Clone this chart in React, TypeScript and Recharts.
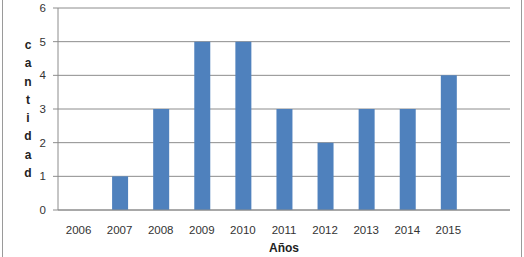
import React from 'react';
import { BarChart, Bar, XAxis, YAxis, CartesianGrid, Label } from 'recharts';

const years = ['2006', '2007', '2008', '2009', '2010', '2011', '2012', '2013', '2014', '2015', ''];
const cantidad = [0, 1, 3, 5, 5, 3, 2, 3, 3, 4, null];
const yTicks = [0, 1, 2, 3, 4, 5, 6];
const boundaryTicks = [0, 1, 2, 3, 4, 5, 6, 7, 8, 9, 10, 11];
const yLabel = 'cantidad';
const xLabel = 'Años';

const data = years.map((y, i) => ({ year: y, value: cantidad[i] }));

const FONT = '"Liberation Sans", Arial, sans-serif';
const GRID = '#8c8c8c';

const YLabel = (props: any) => {
  const vb = props.viewBox;
  const letters = yLabel.split('');
  const cx = 28;
  const cy = vb.y + vb.height / 2;
  const step = 18.3;
  const start = cy - ((letters.length - 1) * step) / 2;
  return (
    <text x={cx} y={start} textAnchor="middle" fontFamily={FONT} fontSize={12} fontWeight="bold" fill="#222">
      {letters.map((ch, i) => (
        <tspan key={i} x={cx} y={start + i * step + 4}>
          {ch}
        </tspan>
      ))}
    </text>
  );
};

const XLabel = (props: any) => {
  const vb = props.viewBox;
  return (
    <text x={vb.x + vb.width / 2} y={vb.y + 41} textAnchor="middle" fontFamily={FONT} fontSize={12} fontWeight="bold" fill="#222">
      {xLabel}
    </text>
  );
};

export default function App() {
  return (
    <div style={{ position: 'fixed', left: 0, top: 0, width: 524, height: 257, background: '#fff' }}>
      <div style={{ position: 'absolute', left: 2, top: 0, width: 1, height: 257, background: '#9a9a9a' }} />
      <div style={{ position: 'absolute', left: 521, top: 0, width: 1, height: 257, background: '#9a9a9a' }} />
      <BarChart width={524} height={257} data={data} margin={{ top: 8, right: 14, bottom: 16, left: 0 }}>
        <CartesianGrid horizontal vertical={false} stroke={GRID} strokeWidth={1} />
        <XAxis
          xAxisId="bnd"
          type="number"
          domain={[0, 11]}
          ticks={boundaryTicks}
          axisLine={{ stroke: GRID }}
          tick={false}
          tickLine={{ stroke: GRID }}
          tickSize={5}
          height={1}
        />
        <XAxis
          dataKey="year"
          xAxisId="cat"
          height={30}
          tickLine={false}
          axisLine={false}
          tickSize={8}
          tickMargin={7}
          interval={0}
          tick={{ fontFamily: FONT, fontSize: 11.5, fill: '#333' }}
        >
          <Label content={XLabel} />
        </XAxis>
        <YAxis
          width={58}
          domain={[0, 6]}
          ticks={yTicks}
          interval={0}
          axisLine={{ stroke: GRID }}
          tickLine={{ stroke: GRID }}
          tickSize={5}
          tickMargin={7}
          tick={{ fontFamily: FONT, fontSize: 11.5, fill: '#333' }}
        >
          <Label content={YLabel} />
        </YAxis>
        <Bar dataKey="value" xAxisId="cat" fill="#4F81BD" barSize={16} isAnimationActive={false} />
      </BarChart>
    </div>
  );
}
